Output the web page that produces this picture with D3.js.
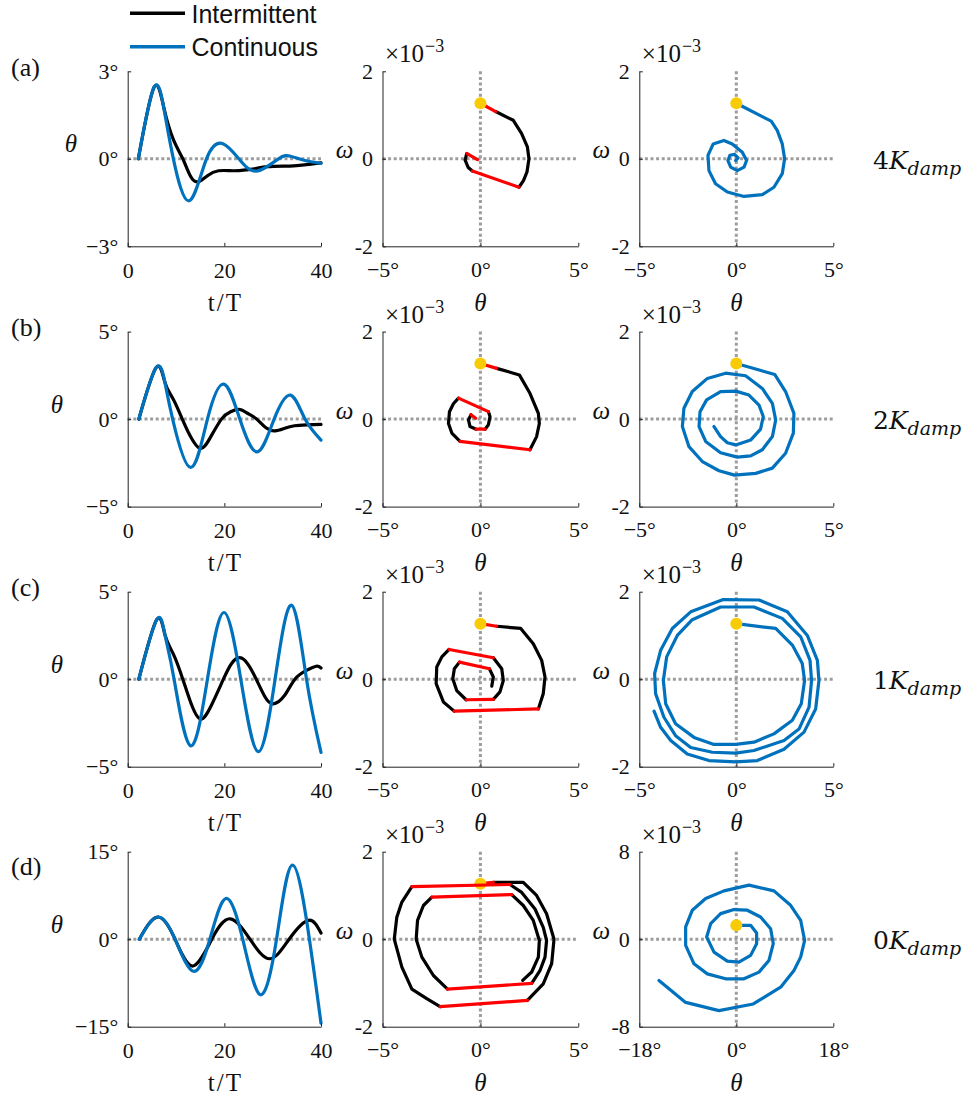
<!DOCTYPE html>
<html>
<head>
<meta charset="utf-8">
<script src="https://cdn.jsdelivr.net/npm/d3@7"></script>
<style>
  body { margin: 0; background: #fff; }
  svg { display: block; }
</style>
</head>
<body>
<svg id="fig" width="973" height="1096"></svg>
<script>
// ---------- labels and axis settings ----------
const tagLabels = ["(a)", "(b)", "(c)", "(d)"];
const dampFactors = ["4", "2", "1", "0"];
const thetaSpan = [3, 5, 5, 15];          // ± range of θ in the time panels (deg)
const timeTicks = [0, 20, 40];
const pulseThetaSpan = [5, 5, 5, 5];      // ± θ range, intermittent phase plane
const pulseOmegaSpan = [2, 2, 2, 2];      // ± ω range (×10^-3)
const contThetaSpan = [5, 5, 5, 18];      // ± θ range, continuous phase plane
const contOmegaSpan = [2, 2, 2, 8];
const startState = [0, 1.27];             // initial (θ, ω)
const legendNames = ["Intermittent", "Continuous"];

// ---------- time histories: θ (deg) vs t/T ----------
const tContA = [2.2, 5.45, 7.5, 9.45, 12.7, 16.3, 19.7, 23.0, 26.7, 31.2, 33.7, 36.5, 40];
const thContA = [0, 2.45, 1.72, 0, -1.44, 0, 0.52, 0, -0.42, 0, 0.09, -0.05, -0.16];
const tIntA = [2.2, 5.45, 7.5, 9.5, 11.4, 13, 14.6, 16.5, 18.8, 21.9, 24.5, 26.7, 28.8, 32.2, 34.3, 37, 40];
const thIntA = [0, 2.45, 1.74, 0.64, 0, -0.6, -0.79, -0.58, -0.41, -0.41, -0.38, -0.33, -0.27, -0.25, -0.24, -0.2, -0.14];

const tContB = [2.3, 5.9, 7.7, 9.3, 13.0, 16.5, 19.9, 23.2, 26.8, 30.3, 33.7, 36.7, 40];
const thContB = [0, 2.95, 2.1, 0, -2.76, 0, 2.0, 0, -1.87, 0, 1.37, 0, -1.2];
const tIntB = [2.3, 5.9, 7.7, 9.4, 11.3, 13, 15, 17, 19.4, 21.3, 23.2, 25, 26.7, 28.6, 30.5, 32.5, 34.5, 37, 40];
const thIntB = [0, 2.95, 2.1, 1.15, 0, -1.0, -1.68, -1.1, 0, 0.42, 0.55, 0.3, 0, -0.5, -0.67, -0.52, -0.38, -0.33, -0.3];

const tContC = [2.3, 6.0, 7.7, 9.6, 13.0, 16.5, 19.9, 23.4, 27.0, 30.5, 33.9, 37.0, 40];
const thContC = [0, 3.4, 2.55, 0, -3.8, 0, 3.81, 0, -4.14, 0, 4.23, 0, -4.18];
const tIntC = [2.3, 6.0, 7.7, 9.5, 11.4, 13, 15, 17.3, 19.8, 21.5, 23.2, 24.9, 26.6, 28.4, 30.1, 32.4, 34.6, 37, 39, 40];
const thIntC = [0, 3.4, 2.55, 1.4, 0, -1.3, -2.27, -1.5, 0, 0.9, 1.23, 0.85, 0, -1.0, -1.41, -0.95, 0, 0.5, 0.74, 0.64];

const tContD = [2.4, 6.2, 9.8, 13.6, 17.0, 20.3, 23.8, 27.4, 30.8, 34.1, 37.6, 40];
const thContD = [0, 3.8, 0, -5.5, 0, 6.97, 0, -9.5, 0, 12.7, 0, -14.4];
const tIntD = [2.4, 6.2, 9.8, 13.4, 17.4, 21.2, 25.3, 29.4, 33.4, 37.4, 40];
const thIntD = [0, 3.8, 0, -4.6, 0, 3.5, 0, -3.35, 0, 3.24, 1.06];

// ---------- intermittent phase plane: coasting arcs and pulse jumps, [θ (deg), ω (×10^-3)] ----------
const coastA = [
  [[0.78, 1.08], [1.68, 0.88], [2.1, 0.58], [2.4, 0.27], [2.48, 0], [2.38, -0.3], [2.2, -0.5], [1.97, -0.65]],
  [[-0.41, -0.28], [-0.62, -0.2], [-0.78, -0.03], [-0.7, 0.12]]
];
const pulseA = [
  [[0, 1.27], [0.78, 1.08]],
  [[1.97, -0.65], [-0.41, -0.28]],
  [[-0.68, 0.12], [-0.15, -0.02]]
];

const coastB = [
  [[0.83, 1.16], [1.99, 1.01], [2.53, 0.59], [2.96, 0.13], [3.01, -0.1], [2.87, -0.4], [2.53, -0.7]],
  [[-1.04, -0.51], [-1.46, -0.32], [-1.63, -0.1], [-1.58, 0.17], [-1.38, 0.35], [-1.12, 0.48]],
  [[0.41, 0.17], [0.49, 0.06], [0.41, -0.13], [0.24, -0.23]],
  [[-0.22, -0.23], [-0.53, -0.17], [-0.61, -0.02], [-0.48, 0.1]]
];
const pulseB = [
  [[0, 1.27], [0.83, 1.16]],
  [[2.53, -0.7], [-1.04, -0.51]],
  [[-1.12, 0.48], [0.41, 0.17]],
  [[0.24, -0.23], [-0.22, -0.23]],
  [[-0.48, 0.1], [-0.24, 0.02]]
];

const coastC = [
  [[0.83, 1.21], [2.06, 1.16], [2.7, 0.81], [3.13, 0.43], [3.3, 0.05], [3.21, -0.33], [2.96, -0.68]],
  [[-1.34, -0.73], [-1.89, -0.52], [-2.26, -0.1], [-2.23, 0.28], [-1.97, 0.51], [-1.6, 0.68]],
  [[0.66, 0.49], [1.09, 0.24], [1.17, -0.03], [1.0, -0.29], [0.66, -0.46]],
  [[-0.73, -0.47], [-1.21, -0.26], [-1.41, 0.01], [-1.33, 0.24], [-1.07, 0.39]],
  [[0.46, 0.24], [0.66, 0.05], [0.58, -0.16]]
];
const pulseC = [
  [[0, 1.27], [0.83, 1.21]],
  [[2.96, -0.68], [-1.34, -0.73]],
  [[-1.6, 0.68], [0.66, 0.49]],
  [[0.66, -0.46], [-0.73, -0.47]],
  [[-1.07, 0.39], [0.46, 0.24]]
];

const coastD = [
  [[0.66, 1.3], [2.19, 1.3], [2.87, 1.0], [3.38, 0.58], [3.76, 0], [3.64, -0.56], [3.21, -1.02], [2.4, -1.4]],
  [[-2.06, -1.54], [-2.74, -1.36], [-3.5, -1.14], [-4.01, -0.64], [-4.4, 0], [-4.27, 0.5], [-4.01, 0.85], [-3.5, 1.2]],
  [[1.51, 1.25], [2.11, 1.07], [2.79, 0.69], [3.21, 0.27], [3.38, -0.03], [3.3, -0.41], [3.04, -0.72], [2.62, -1.01]],
  [[-1.68, -1.14], [-2.4, -0.83], [-2.99, -0.41], [-3.28, 0], [-3.21, 0.43], [-2.91, 0.77], [-2.48, 0.96]],
  [[1.6, 1.02], [2.19, 0.77], [2.7, 0.43], [3.01, -0.03], [2.96, -0.41], [2.62, -0.75], [2.16, -0.94]]
];
const pulseD = [
  [[0, 1.27], [0.66, 1.3]],
  [[2.4, -1.4], [-2.06, -1.54]],
  [[-3.5, 1.2], [1.51, 1.25]],
  [[2.62, -1.01], [-1.68, -1.14]],
  [[-2.48, 0.96], [1.6, 1.02]]
];

// ---------- continuous phase plane, [θ (deg), ω (×10^-3)] ----------
const contPhaseA = [[0, 1.27], [1.8, 0.86], [2.11, 0.65], [2.37, 0.34], [2.49, 0], [2.37, -0.34], [1.94, -0.65], [1.34, -0.82], [0.4, -0.86], [-0.46, -0.76], [-1.07, -0.57], [-1.41, -0.27], [-1.46, 0.08], [-1.19, 0.34], [-0.64, 0.42], [-0.21, 0.34], [0.31, 0.15], [0.53, -0.04], [0.4, -0.19], [0.05, -0.27], [-0.29, -0.19], [-0.43, -0.04], [-0.33, 0.08], [-0.09, 0.1], [0.09, 0.02], [-0.03, -0.04]];
const contPhaseB = [[0, 1.27], [1.98, 1.02], [2.54, 0.63], [2.97, 0.13], [2.94, -0.32], [2.54, -0.78], [1.86, -1.12], [1.0, -1.24], [-0.09, -1.28], [-0.89, -1.18], [-1.75, -0.97], [-2.44, -0.63], [-2.78, -0.17], [-2.7, 0.25], [-2.27, 0.63], [-1.49, 0.93], [-0.55, 1.05], [0.48, 0.99], [1.34, 0.7], [1.86, 0.36], [2.03, -0.02], [1.86, -0.4], [1.34, -0.7], [0.74, -0.84], [0.05, -0.87], [-0.81, -0.77], [-1.58, -0.51], [-1.92, -0.17], [-1.87, 0.17], [-1.53, 0.44], [-0.81, 0.63], [-0.03, 0.64], [0.65, 0.55], [1.17, 0.32], [1.39, 0.06], [1.25, -0.23], [0.74, -0.48], [-0.03, -0.59], [-0.46, -0.54], [-0.81, -0.4], [-1.15, -0.17]];
const contPhaseC = [[0, 1.27], [2.03, 1.16], [2.89, 0.78], [3.4, 0.36], [3.52, -0.03], [3.35, -0.56], [2.89, -0.94], [1.94, -1.25], [0.91, -1.44], [-0.03, -1.49], [-1.15, -1.49], [-2.18, -1.33], [-3.13, -1.02], [-3.64, -0.56], [-3.76, -0.03], [-3.59, 0.51], [-3.04, 1.0], [-2.27, 1.36], [-0.81, 1.65], [0.91, 1.65], [2.37, 1.39], [3.32, 0.97], [3.8, 0.43], [3.88, -0.03], [3.75, -0.64], [3.23, -1.14], [2.46, -1.4], [0.91, -1.63], [-0.03, -1.69], [-1.24, -1.67], [-2.35, -1.56], [-3.13, -1.29], [-3.73, -0.87], [-4.16, -0.33], [-4.21, 0.13], [-3.9, 0.66], [-3.3, 1.16], [-2.35, 1.54], [-0.67, 1.82], [1.17, 1.81], [2.63, 1.54], [3.66, 1.0], [4.18, 0.43], [4.26, -0.03], [4.09, -0.68], [3.49, -1.21], [2.46, -1.6], [1.08, -1.86], [-0.03, -1.89], [-1.41, -1.86], [-2.53, -1.71], [-3.38, -1.4], [-3.9, -1.1], [-4.24, -0.73]];
const contPhaseD = [[0, 1.27], [2.66, 1.27], [3.77, 0.57], [3.77, -0.41], [2.66, -1.48], [0.49, -2.1], [-1.67, -2.0], [-4.14, -1.18], [-5.5, 0.2], [-4.76, 1.42], [-2.91, 2.34], [-0.43, 2.71], [2.04, 2.65], [4.51, 2.03], [6.37, 0.96], [6.86, -0.41], [6.06, -1.94], [4.21, -3.01], [1.42, -3.62], [-1.98, -3.62], [-5.38, -3.17], [-7.85, -2.25], [-9.4, -0.57], [-9.4, 1.12], [-8.16, 2.65], [-5.69, 3.72], [-2.29, 4.42], [2.35, 4.94], [6.99, 4.42], [10.08, 3.1], [11.94, 1.73], [12.68, -0.11], [11.94, -1.64], [10.7, -2.86], [8.23, -4.39], [3.15, -5.92], [-3.22, -6.53], [-9.4, -5.78], [-14.35, -3.78]];

// ---------- grouping per row ----------
const timeRows = [
  { tc: tContA, c: thContA, ti: tIntA, i: thIntA },
  { tc: tContB, c: thContB, ti: tIntB, i: thIntB },
  { tc: tContC, c: thContC, ti: tIntC, i: thIntC },
  { tc: tContD, c: thContD, ti: tIntD, i: thIntD }
];
const coastRows = [coastA, coastB, coastC, coastD];
const pulseRows = [pulseA, pulseB, pulseC, pulseD];
const contPhaseRows = [contPhaseA, contPhaseB, contPhaseC, contPhaseD];

// ---------- layout & style ----------
const SERIF = "'Liberation Serif', 'Times New Roman', serif";
const SANS = "'Liberation Sans', Arial, sans-serif";
const BLUE = "#0072BD", RED = "#FF0000", BLACK = "#000000", GOLD = "#F8CB05", GRID = "#9d9d9d";
const LW = 3.2;
const colTime = [127.7, 321], colPulse = [382.5, 578.3], colCont = [639.3, 833.3];
const rowTop = [71.3, 331.6, 591.7, 851.7];
const PH = 175;
const tagBaseline = [76, 336, 596, 875];
const thetaLabelX = [71, 57, 57, 57];

const svg = d3.select("#fig");

const degFmt = d => (d < 0 ? "\u2212" : "") + Math.abs(d) + "\u00B0";
const hyphenFmt = d => (d < 0 ? "-" : "") + Math.abs(d);

function frame(g, xs, ys, xTicks, yTicks, xFmt, yFmt, xPad) {
  const bottom = ys.range()[0], left = xs.range()[0];
  const ax = g.append("g").attr("transform", `translate(0,${bottom})`)
    .call(d3.axisBottom(xs).tickValues(xTicks).tickFormat(xFmt)
      .tickSizeInner(-3.5).tickSizeOuter(0).tickPadding(xPad));
  const ay = g.append("g").attr("transform", `translate(${left},0)`)
    .call(d3.axisLeft(ys).tickValues(yTicks).tickFormat(yFmt)
      .tickSizeInner(-3.5).tickSizeOuter(0).tickPadding(9.5));
  [ax, ay].forEach(a => {
    a.attr("font-family", SERIF).attr("font-size", 22);
    a.selectAll("path, line").attr("stroke", "#222").attr("stroke-width", 1);
    a.selectAll("text").attr("fill", "#111");
  });
}

function dotted(g, x1, y1, x2, y2) {
  g.append("line").attr("x1", x1).attr("y1", y1).attr("x2", x2).attr("y2", y2)
    .attr("stroke", GRID).attr("stroke-width", 3).attr("stroke-dasharray", "3 2.6");
}

function trace(g, pts, xs, ys, color, curve) {
  g.append("path").datum(pts)
    .attr("d", d3.line().x(d => xs(d[0])).y(d => ys(d[1])).curve(curve || d3.curveLinear))
    .attr("fill", "none").attr("stroke", color).attr("stroke-width", LW)
    .attr("stroke-linejoin", "round").attr("stroke-linecap", "round");
}

function sciNote(g, x, y) {
  const t = g.append("text").attr("x", x).attr("y", y)
    .attr("font-family", SERIF).attr("font-size", 25).attr("fill", "#111").text("\u00D710");
  t.append("tspan").attr("dx", 1).attr("dy", -10).attr("font-size", 18).text("\u22123");
}

function italicLabel(g, x, y, txt) {
  g.append("text").attr("x", x).attr("y", y).attr("text-anchor", "middle")
    .attr("dominant-baseline", "central").attr("font-family", SERIF)
    .attr("font-style", "italic").attr("font-size", 25).attr("fill", "#111").text(txt);
}

rowTop.forEach((top, r) => {
  const bottom = top + PH, mid = top + PH / 2;
  const g = svg.append("g");

  // panel tag
  g.append("text").attr("x", 11).attr("y", tagBaseline[r])
    .attr("font-family", SERIF).attr("font-size", 26).attr("fill", "#111").text(tagLabels[r]);

  // ---- time history ----
  const xt = d3.scaleLinear().domain([0, 40]).range(colTime);
  const yt = d3.scaleLinear().domain([-thetaSpan[r], thetaSpan[r]]).range([bottom, top]);
  dotted(g, colTime[0], yt(0), colTime[1], yt(0));
  const row = timeRows[r];
  trace(g, d3.zip(row.ti, row.i), xt, yt, BLACK, d3.curveNatural);
  trace(g, d3.zip(row.tc, row.c), xt, yt, BLUE, d3.curveNatural);
  frame(g, xt, yt, timeTicks, [-thetaSpan[r], 0, thetaSpan[r]], d => d, degFmt, 16);
  g.append("text").attr("x", (colTime[0] + colTime[1]) / 2 + 1).attr("y", bottom + 56)
    .attr("text-anchor", "middle").attr("dominant-baseline", "central")
    .attr("font-family", SERIF).attr("font-size", 25).attr("letter-spacing", 2)
    .attr("fill", "#111").text("t/T");
  italicLabel(g, thetaLabelX[r], mid - 15, "\u03B8");

  // ---- intermittent phase plane ----
  const xp = d3.scaleLinear().domain([-pulseThetaSpan[r], pulseThetaSpan[r]]).range(colPulse);
  const yp = d3.scaleLinear().domain([-pulseOmegaSpan[r], pulseOmegaSpan[r]]).range([bottom, top]);
  dotted(g, colPulse[0], yp(0), colPulse[1], yp(0));
  dotted(g, xp(0), top, xp(0), bottom);
  coastRows[r].forEach(arc => trace(g, arc, xp, yp, BLACK));
  trace(g, pulseRows[r][0], xp, yp, RED);
  g.append("circle").attr("cx", xp(startState[0])).attr("cy", yp(startState[1])).attr("r", 6).attr("fill", GOLD);
  pulseRows[r].slice(1).forEach(seg => trace(g, seg, xp, yp, RED));
  frame(g, xp, yp, [-pulseThetaSpan[r], 0, pulseThetaSpan[r]], [-pulseOmegaSpan[r], 0, pulseOmegaSpan[r]], degFmt, hyphenFmt, 15);
  sciNote(g, colPulse[0] + 2.5, top - 9);
  italicLabel(g, colPulse[0] - 38, mid - 9, "\u03C9");
  italicLabel(g, (colPulse[0] + colPulse[1]) / 2, bottom + 56, "\u03B8");

  // ---- continuous phase plane ----
  const xc = d3.scaleLinear().domain([-contThetaSpan[r], contThetaSpan[r]]).range(colCont);
  const yc = d3.scaleLinear().domain([-contOmegaSpan[r], contOmegaSpan[r]]).range([bottom, top]);
  dotted(g, colCont[0], yc(0), colCont[1], yc(0));
  dotted(g, xc(0), top, xc(0), bottom);
  trace(g, contPhaseRows[r], xc, yc, BLUE);
  g.append("circle").attr("cx", xc(startState[0])).attr("cy", yc(startState[1])).attr("r", 6).attr("fill", GOLD);
  frame(g, xc, yc, [-contThetaSpan[r], 0, contThetaSpan[r]], [-contOmegaSpan[r], 0, contOmegaSpan[r]], degFmt, hyphenFmt, 15);
  sciNote(g, colCont[0] + 2.5, top - 9);
  italicLabel(g, colCont[0] - 38, mid - 9, "\u03C9");
  italicLabel(g, (colCont[0] + colCont[1]) / 2, bottom + 56, "\u03B8");

  // damping factor label
  const lab = g.append("text").attr("x", 873).attr("y", mid + 10)
    .attr("font-family", "'DejaVu Serif', serif").attr("font-size", 25).attr("fill", "#111");
  lab.append("tspan").text(dampFactors[r]);
  lab.append("tspan").attr("font-style", "italic").text("K");
  lab.append("tspan").attr("font-style", "italic").attr("font-size", 19).attr("dy", 6).text("damp");
});

// ---------- legend ----------
const legend = svg.append("g");
[BLACK, BLUE].forEach((c, i) => {
  const y = [13.3, 46.7][i];
  legend.append("line").attr("x1", 130).attr("x2", 185).attr("y1", y).attr("y2", y)
    .attr("stroke", c).attr("stroke-width", 3.5);
  legend.append("text").attr("x", 191.5).attr("y", [23.3, 55.5][i])
    .attr("font-family", SANS).attr("font-size", 25).attr("fill", "#111").text(legendNames[i]);
});
</script>
</body>
</html>
